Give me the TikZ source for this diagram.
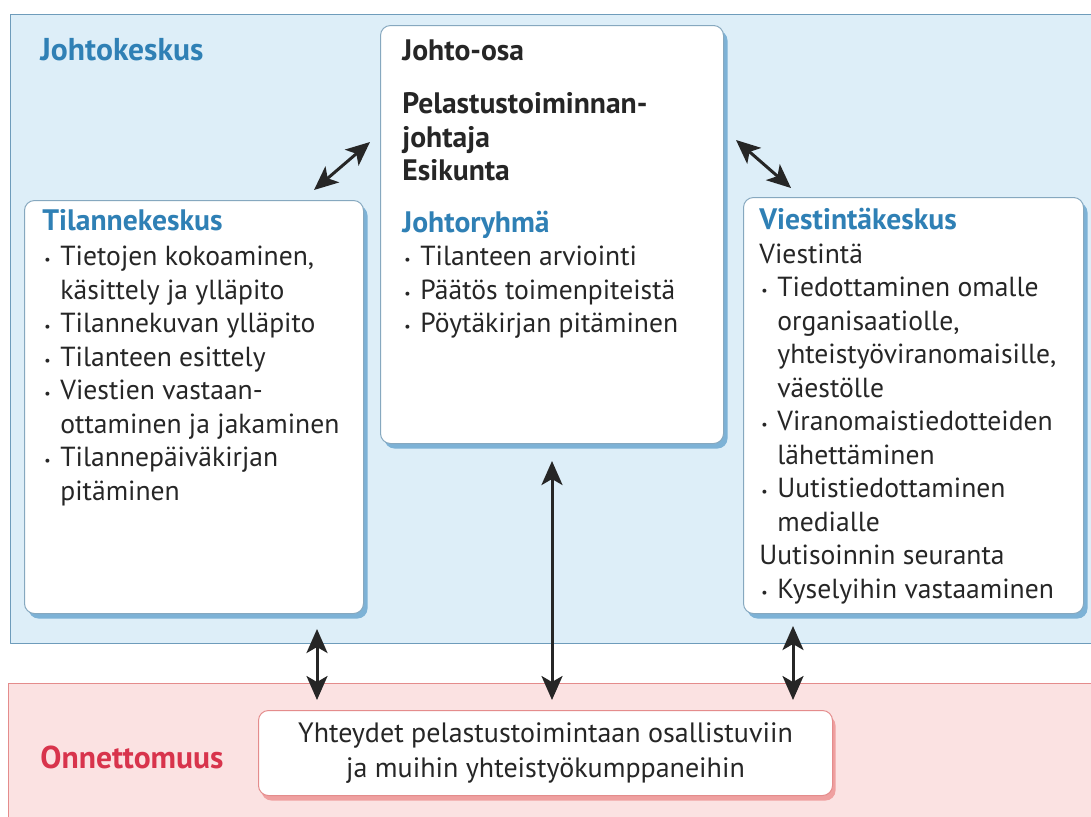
\documentclass[tikz,border=0pt]{standalone}
\usepackage{fontspec}
\setmainfont{PT Sans}
\usetikzlibrary{arrows.meta,shadows,positioning}

\definecolor{panelblue}{HTML}{DDEEF8}
\definecolor{panelline}{HTML}{6E9CBB}
\definecolor{boxline}{HTML}{86A8BF}
\definecolor{boxshadow}{HTML}{7DB2D6}
\definecolor{heading}{HTML}{2F80B5}
\definecolor{panelpink}{HTML}{FBE2E2}
\definecolor{pinkline}{HTML}{E48C8C}
\definecolor{alert}{HTML}{D8344C}
\definecolor{pinkshadow}{HTML}{EFA0A0}
\definecolor{ink}{HTML}{262626}

\newcommand{\itm}{\makebox[9pt][l]{\hspace{1pt}\raisebox{0.5pt}{\scriptsize\textbullet}}}
\newcommand{\cnt}{\hspace*{9pt}}
\newcommand{\hd}[1]{{\bfseries\fontsize{14.8}{16.75}\selectfont #1}}

\begin{document}
\begin{tikzpicture}[
  x=0.5pt, y=-0.5pt,
  line cap=round, line join=round,
  every node/.style={font=\fontsize{13.8}{16.75}\selectfont, text=ink, inner sep=0pt},
  panel/.style={draw=panelline, line width=0.6pt, fill=panelblue, anchor=north west},
  redpanel/.style={draw=pinkline, line width=0.6pt, fill=panelpink, anchor=north west},
  card/.style={draw=boxline, line width=0.5pt, fill=white, rounded corners=5pt, anchor=north west,
    drop shadow={shadow xshift=2pt, shadow yshift=-2.5pt, fill=boxshadow, opacity=1}},
  redcard/.style={draw=pinkline, line width=0.5pt, fill=white, rounded corners=5pt, anchor=north west,
    drop shadow={shadow xshift=1.5pt, shadow yshift=-2.5pt, fill=pinkshadow, opacity=1}},
  body/.style={anchor=north west, align=left},
  label/.style={anchor=west, font=\bfseries\fontsize{15.8}{18}\selectfont},
  dbl/.style={{Stealth[length=12pt,width=10.5pt,inset=3pt]}-{Stealth[length=12pt,width=10.5pt,inset=3pt]},
    line width=1.5pt, draw=ink, line cap=butt},
]
\useasboundingbox (0,0) rectangle (1091,816);

% background panels
\node[panel, minimum width=545pt, minimum height=314.5pt] (keskus) at (10,14) {};
\node[redpanel, minimum width=546pt, minimum height=73.5pt] (onnettomuus) at (8,683) {};
\node[label, text=heading] (keskuslabel) at (40,50) {Johtokeskus};
\node[label, text=alert] (onnlabel) at (40,757) {Onnettomuus};

% cards
\node[card, minimum width=171.5pt, minimum height=209pt] (johto) at (380,25) {};
\node[card, minimum width=169.5pt, minimum height=206.5pt] (tilanne) at (24,200) {};
\node[card, minimum width=170pt, minimum height=208pt] (viesti) at (743,197) {};
\node[redcard, minimum width=287pt, minimum height=42.5pt, align=center,
  font=\fontsize{14}{17.5}\selectfont] (yhteys) at (258,710)
  {Yhteydet pelastustoimintaan osallistuviin\\ja muihin yhteistyökumppaneihin};

% card texts
\node[body] (johtotext) at ([shift={(22,14)}]johto.north west)
  {\hd{Johto-osa}\\[10pt]
   \hd{Pelastustoiminnan-}\\
   \hd{johtaja}\\
   \hd{Esikunta}\\[9pt]
   \hd{\color{heading}Johtoryhmä}\\
   \itm Tilanteen arviointi\\
   \itm Päätös toimenpiteistä\\
   \itm Pöytäkirjan pitäminen};
\node[body] (tilannetext) at ([shift={(18,9)}]tilanne.north west)
  {\hd{\color{heading}Tilannekeskus}\\[1pt]
   \itm Tietojen kokoaminen,\\
   \cnt käsittely ja ylläpito\\
   \itm Tilannekuvan ylläpito\\
   \itm Tilanteen esittely\\
   \itm Viestien vastaan-\\
   \cnt ottaminen ja jakaminen\\
   \itm Tilannepäiväkirjan\\
   \cnt pitäminen};
\node[body] (viestitext) at ([shift={(16,11)}]viesti.north west)
  {\hd{\color{heading}Viestintäkeskus}\\
   Viestintä\\
   \itm Tiedottaminen omalle\\
   \cnt organisaatiolle,\\
   \cnt yhteistyöviranomaisille,\\
   \cnt väestölle\\
   \itm Viranomaistiedotteiden\\
   \cnt lähettäminen\\
   \itm Uutistiedottaminen\\
   \cnt medialle\\
   Uutisoinnin seuranta\\
   \itm Kyselyihin vastaaminen};

% connectors
\coordinate (lt) at ([shift={(-47,15)}]tilanne.south east);
\coordinate (rt) at ([shift={(50,12)}]viesti.south west);
\draw[dbl] ([shift={(-50,-10)}]tilanne.north east) -- ([shift={(-10,117)}]johto.north west);
\draw[dbl] ([shift={(12,115)}]johto.north east) -- ([shift={(48,-9)}]viesti.north west);
\draw[dbl, shorten >=5pt] (lt) -- (lt |- yhteys.north);
\draw[dbl, shorten <=8.5pt, shorten >=5pt] (johto.south) -- (johto.south |- yhteys.north);
\draw[dbl, shorten >=5pt] (rt) -- (rt |- yhteys.north);
\end{tikzpicture}
\end{document}
